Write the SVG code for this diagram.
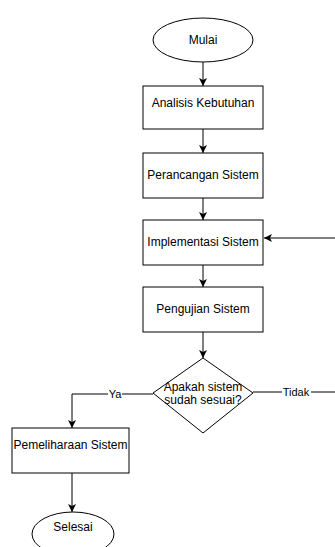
<svg xmlns="http://www.w3.org/2000/svg" width="335" height="547" viewBox="0 0 335 547">
<style>
.shape{fill:#fff;stroke:#000;stroke-width:1}
.t{font-family:"Liberation Sans",Arial,sans-serif;font-size:12px;fill:#000;text-anchor:middle;dominant-baseline:central}
.lbl{font-family:"Liberation Sans",Arial,sans-serif;font-size:11px;fill:#000;text-anchor:middle;dominant-baseline:central}
.c{fill:none;stroke:#000;stroke-width:1}
</style>
<defs>
<marker id="ah" viewBox="0 0 8 8" refX="8" refY="4" markerWidth="8" markerHeight="8" orient="auto" markerUnits="userSpaceOnUse">
<path d="M0,0 L8,4 L0,8 L2,4 Z" fill="#000"/>
</marker>
</defs>
<rect width="335" height="547" fill="#fff"/>
<g id="connectors">
<path class="c" d="M203,62 V86" marker-end="url(#ah)"/>
<path class="c" d="M203,129 V153" marker-end="url(#ah)"/>
<path class="c" d="M203,198 V220" marker-end="url(#ah)"/>
<path class="c" d="M203,265 V287" marker-end="url(#ah)"/>
<path class="c" d="M203,332 V358" marker-end="url(#ah)"/>
<path class="c" d="M153,394 H72 V428" marker-end="url(#ah)"/>
<path class="c" d="M253,392 H336"/>
<path class="c" d="M336,238 H264" marker-end="url(#ah)"/>
<path class="c" d="M72,473 V512" marker-end="url(#ah)"/>
<rect x="108" y="388" width="14" height="12" fill="#fff"/>
<text class="lbl" x="115" y="394">Ya</text>
<rect x="282" y="386" width="29" height="12" fill="#fff"/>
<text class="lbl" x="296" y="392">Tidak</text>
</g>
<g id="mulai">
<ellipse class="shape" cx="203" cy="40" rx="50" ry="22"/>
<text class="t" x="203" y="40">Mulai</text>
</g>
<g id="analisis">
<rect class="shape" x="143" y="86" width="120" height="43"/>
<text class="t" x="203" y="103">Analisis Kebutuhan</text>
</g>
<g id="perancangan">
<rect class="shape" x="143" y="153" width="120" height="45"/>
<text class="t" x="203" y="175">Perancangan Sistem</text>
</g>
<g id="implementasi">
<rect class="shape" x="143" y="220" width="120" height="45"/>
<text class="t" x="203" y="242">Implementasi Sistem</text>
</g>
<g id="pengujian">
<rect class="shape" x="143" y="287" width="120" height="45"/>
<text class="t" x="203" y="309">Pengujian Sistem</text>
</g>
<g id="keputusan">
<polygon class="shape" points="203,358 253,393 203,433 153,393"/>
<text class="t" x="203" y="387">Apakah sistem</text>
<text class="t" x="203" y="400">sudah sesuai?</text>
</g>
<g id="pemeliharaan">
<rect class="shape" x="12" y="428" width="117" height="45"/>
<text class="t" x="70.5" y="445">Pemeliharaan Sistem</text>
</g>
<g id="selesai">
<ellipse class="shape" cx="73" cy="534" rx="41" ry="22"/>
<text class="t" x="73" y="527">Selesai</text>
</g>
</svg>
